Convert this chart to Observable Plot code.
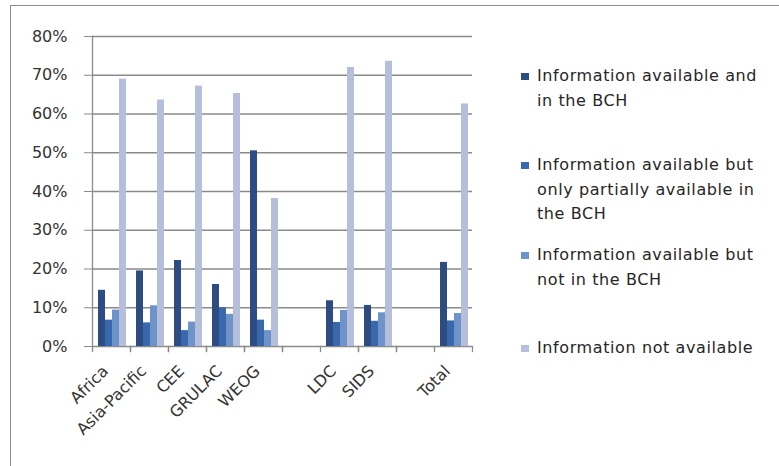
<!DOCTYPE html>
<html><head><meta charset="utf-8">
<script src="https://cdn.jsdelivr.net/npm/d3@7"></script>
<script src="https://cdn.jsdelivr.net/npm/@observablehq/plot@0.6"></script>
<style>
body{margin:0;background:#fff;}
#wrap{position:relative;width:779px;height:466px;overflow:hidden;font-family:"DejaVu Sans",sans-serif;background:#fff;}
#border{position:absolute;left:10px;top:5px;width:770px;height:480px;border:1.5px solid #8c8c8c;box-sizing:border-box;pointer-events:none;}
#chart{position:absolute;left:0;top:0;}
#legend{position:absolute;left:521px;top:0;width:258px;height:466px;}
.item{position:absolute;left:0;width:252px;font-size:16px;letter-spacing:0.6px;line-height:24.5px;color:#262626;}
.sw{position:absolute;left:0;top:9px;width:8px;height:7px;}
.lab{margin-left:16px;width:232px;}
</style>
</head><body>
<div id="wrap"><div id="chart"></div><div id="legend"></div><div id="border"></div></div>
<script>
const categories = ["Africa","Asia-Pacific","CEE","GRULAC","WEOG","LDC","SIDS","Total"];
const slots = ["Africa","Asia-Pacific","CEE","GRULAC","WEOG","gap1","LDC","SIDS","gap2","Total"];
const series = [
  "Information available and in the BCH",
  "Information available but only partially available in the BCH",
  "Information available but not in the BCH",
  "Information not available"
];
const availableInBCH   = [14.5, 19.5, 22.2, 16.0, 50.5, 11.8, 10.6, 21.7];
const partiallyInBCH   = [ 6.8,  6.1,  4.1, 10.0,  6.8,  6.2,  6.5,  6.6];
const notInBCH         = [ 9.4, 10.5,  6.3,  8.3,  4.1,  9.3,  8.7,  8.5];
const notAvailable     = [69.0, 63.6, 67.2, 65.3, 38.2, 72.0, 73.6, 62.6];
const yTicks = [0, 0.1, 0.2, 0.3, 0.4, 0.5, 0.6, 0.7, 0.8];
const colors = ["#2d4c82", "#3a68ac", "#6d93c9", "#b5bfdc"];

const seriesValues = [availableInBCH, partiallyInBCH, notInBCH, notAvailable];
const data = [];
categories.forEach((c, i) => {
  series.forEach((s, j) => data.push({category: c, series: s, value: seriesValues[j][i] / 100}));
});

const gridColor = "#8a8a8a";
const firstSlot = () => slots[0];
const gridOpts = {stroke: gridColor, strokeOpacity: 1, strokeWidth: 1.3};
const tickOpts = {insetTop: 310, insetBottom: -5, stroke: gridColor, strokeWidth: 1.3};
const chart = Plot.plot({
  width: 779, height: 466,
  marginLeft: 88, marginRight: 303, marginTop: 36, marginBottom: 120,
  style: {fontFamily: "DejaVu Sans, sans-serif", background: "transparent"},
  fx: {domain: slots, paddingInner: 0, paddingOuter: 0, label: null},
  x: {domain: series, paddingInner: 0, paddingOuter: 0.65, align: 0.6, axis: null},
  y: {domain: [0, 0.8], label: null, axis: null},
  color: {domain: series, range: colors},
  marks: [
    // gridlines: in facets with bars and in the empty gap facets
    Plot.gridY(yTicks, {...gridOpts}),
    Plot.gridY(yTicks, {...gridOpts, facetAnchor: "empty"}),
    Plot.barY(data, {fx: "category", x: "series", y: "value", fill: "series"}),
    Plot.frame({anchor: "left", fx: firstSlot, facetAnchor: null, stroke: gridColor, strokeWidth: 1.3}),
    // category boundary tick marks
    Plot.frame({anchor: "left", ...tickOpts}),
    Plot.frame({anchor: "right", ...tickOpts}),
    Plot.frame({anchor: "left", ...tickOpts, facetAnchor: "empty"}),
    Plot.axisY(yTicks, {fx: firstSlot, facetAnchor: null, tickSize: 8, tickPadding: 17, stroke: gridColor,
      fill: "#333", fontSize: 16, letterSpacing: 0.5,
      tickFormat: d => Math.round(d * 100) + "%", label: null}),
    Plot.axisFx({anchor: "bottom", tickRotate: -45, tickSize: 0, tickPadding: 22, dx: -6, fontSize: 16,
      fill: "#333", letterSpacing: 0.5,
      tickFormat: d => d.startsWith("gap") ? "" : d, label: null})
  ]
});
document.getElementById("chart").appendChild(chart);

// legend (HTML, positioned over the right side)
const legendTops = [64, 153, 243, 336];
const legend = d3.select("#legend");
series.forEach((s, i) => {
  const it = legend.append("div").attr("class", "item").style("top", legendTops[i] + "px");
  it.append("div").attr("class", "sw").style("background", colors[i]);
  it.append("div").attr("class", "lab").text(s);
});
</script>
</body></html>
